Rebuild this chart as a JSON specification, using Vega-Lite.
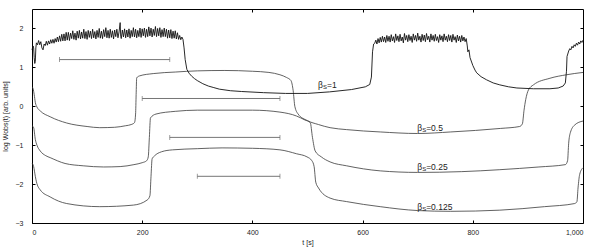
{
"$schema":"https://vega.github.io/schema/vega-lite/v6.json",
"width":551,"height":214,
"autosize":{"type":"none"},
"padding":{"left":32,"top":9,"right":15,"bottom":24},
"config":{"view":{"stroke":"#000","strokeWidth":1},"font":"Liberation Sans",
"axis":{"labelFont":"Liberation Sans","titleFont":"Liberation Sans","labelFontSize":7,"titleFontSize":7,"titleFontWeight":"normal","labelColor":"#222","titleColor":"#222","tickColor":"#000","domain":false,"grid":false,"tickSize":-3}},
"datasets":{
"curves":[
{"s":"1","t":0,"y":1.45},{"s":"1","t":2,"y":1.55},{"s":"1","t":3,"y":1.5},{"s":"1","t":4,"y":1.25},{"s":"1","t":5,"y":1.1},{"s":"1","t":6,"y":1.15},{"s":"1","t":7,"y":1.5},
{"s":"1","t":8,"y":1.63},{"s":"1","t":10,"y":1.58},{"s":"1","t":12,"y":1.69},{"s":"1","t":14,"y":1.58},{"s":"1","t":16,"y":1.66},{"s":"1","t":18,"y":1.5},{"s":"1","t":20,"y":1.45},{"s":"1","t":22,"y":1.6},{"s":"1","t":24,"y":1.56},{"s":"1","t":26,"y":1.67},{"s":"1","t":28,"y":1.57},{"s":"1","t":30,"y":1.68},{"s":"1","t":32,"y":1.6},{"s":"1","t":34,"y":1.71},{"s":"1","t":36,"y":1.62},{"s":"1","t":38,"y":1.72},{"s":"1","t":40,"y":1.62},{"s":"1","t":42,"y":1.74},{"s":"1","t":44,"y":1.65},{"s":"1","t":46,"y":1.78},{"s":"1","t":48,"y":1.66},{"s":"1","t":50,"y":1.81},{"s":"1","t":52,"y":1.67},{"s":"1","t":54,"y":1.85},{"s":"1","t":56,"y":1.68},{"s":"1","t":58,"y":1.86},{"s":"1","t":60,"y":1.68},{"s":"1","t":62,"y":1.9},{"s":"1","t":64,"y":1.7},{"s":"1","t":66,"y":1.9},{"s":"1","t":68,"y":1.69},{"s":"1","t":70,"y":1.88},{"s":"1","t":72,"y":1.74},{"s":"1","t":74,"y":1.94},{"s":"1","t":76,"y":1.72},{"s":"1","t":78,"y":1.88},{"s":"1","t":80,"y":1.7},{"s":"1","t":82,"y":1.93},{"s":"1","t":84,"y":1.75},{"s":"1","t":86,"y":1.95},{"s":"1","t":88,"y":1.73},{"s":"1","t":90,"y":1.91},{"s":"1","t":92,"y":1.75},{"s":"1","t":94,"y":1.98},{"s":"1","t":96,"y":1.74},{"s":"1","t":98,"y":1.92},{"s":"1","t":100,"y":1.72},{"s":"1","t":102,"y":1.95},{"s":"1","t":104,"y":1.77},{"s":"1","t":106,"y":1.93},{"s":"1","t":108,"y":1.74},{"s":"1","t":110,"y":1.98},{"s":"1","t":112,"y":1.76},{"s":"1","t":114,"y":1.92},{"s":"1","t":116,"y":1.73},{"s":"1","t":118,"y":1.95},{"s":"1","t":120,"y":1.77},{"s":"1","t":122,"y":2.0},{"s":"1","t":124,"y":1.75},{"s":"1","t":126,"y":1.93},{"s":"1","t":128,"y":1.74},{"s":"1","t":130,"y":1.97},{"s":"1","t":132,"y":1.79},{"s":"1","t":134,"y":2.02},{"s":"1","t":136,"y":1.76},{"s":"1","t":138,"y":1.95},{"s":"1","t":140,"y":1.75},{"s":"1","t":142,"y":1.98},{"s":"1","t":144,"y":1.77},{"s":"1","t":146,"y":1.94},{"s":"1","t":148,"y":1.73},{"s":"1","t":150,"y":1.96},{"s":"1","t":152,"y":1.79},{"s":"1","t":154,"y":1.98},{"s":"1","t":156,"y":1.76},{"s":"1","t":158,"y":1.91},{"s":"1","t":160,"y":2.15},{"s":"1","t":161,"y":1.8},{"s":"1","t":162,"y":1.74},{"s":"1","t":164,"y":1.96},{"s":"1","t":166,"y":1.78},{"s":"1","t":168,"y":1.99},{"s":"1","t":170,"y":1.76},{"s":"1","t":172,"y":1.96},{"s":"1","t":174,"y":1.78},{"s":"1","t":176,"y":1.99},{"s":"1","t":178,"y":1.75},{"s":"1","t":180,"y":1.95},{"s":"1","t":182,"y":1.79},{"s":"1","t":184,"y":2.02},{"s":"1","t":186,"y":1.78},{"s":"1","t":188,"y":1.98},{"s":"1","t":190,"y":1.76},{"s":"1","t":192,"y":1.95},{"s":"1","t":194,"y":1.79},{"s":"1","t":196,"y":2.01},{"s":"1","t":198,"y":1.77},{"s":"1","t":200,"y":1.99},{"s":"1","t":202,"y":1.81},{"s":"1","t":204,"y":2.01},{"s":"1","t":206,"y":1.77},{"s":"1","t":208,"y":1.98},{"s":"1","t":210,"y":1.79},{"s":"1","t":212,"y":2.04},{"s":"1","t":214,"y":1.81},{"s":"1","t":216,"y":2.01},{"s":"1","t":218,"y":1.78},{"s":"1","t":220,"y":1.98},{"s":"1","t":222,"y":1.82},{"s":"1","t":224,"y":2.05},{"s":"1","t":226,"y":1.79},{"s":"1","t":228,"y":2.0},{"s":"1","t":230,"y":1.81},{"s":"1","t":232,"y":2.02},{"s":"1","t":234,"y":1.77},{"s":"1","t":236,"y":1.97},{"s":"1","t":238,"y":1.79},{"s":"1","t":240,"y":2.01},{"s":"1","t":242,"y":1.79},{"s":"1","t":244,"y":1.98},{"s":"1","t":246,"y":1.75},{"s":"1","t":248,"y":1.96},{"s":"1","t":250,"y":1.76},{"s":"1","t":252,"y":1.97},{"s":"1","t":254,"y":1.74},{"s":"1","t":256,"y":1.93},{"s":"1","t":258,"y":1.75},{"s":"1","t":260,"y":1.94},{"s":"1","t":262,"y":1.73},{"s":"1","t":264,"y":1.89},{"s":"1","t":266,"y":1.72},{"s":"1","t":268,"y":1.82},{"s":"1","t":270,"y":1.71},{"s":"1","t":272,"y":1.78},{"s":"1","t":274,"y":1.72},{"s":"1","t":276,"y":1.5},{"s":"1","t":278,"y":1.2},{"s":"1","t":281,"y":0.95},{"s":"1","t":285,"y":0.85},{"s":"1","t":290,"y":0.77},{"s":"1","t":295,"y":0.71},{"s":"1","t":300,"y":0.66},{"s":"1","t":305,"y":0.62},{"s":"1","t":310,"y":0.58},{"s":"1","t":320,"y":0.52},{"s":"1","t":330,"y":0.48},{"s":"1","t":340,"y":0.44},{"s":"1","t":360,"y":0.4},{"s":"1","t":380,"y":0.38},{"s":"1","t":420,"y":0.35},{"s":"1","t":460,"y":0.33},{"s":"1","t":500,"y":0.33},{"s":"1","t":540,"y":0.37},{"s":"1","t":580,"y":0.43},{"s":"1","t":605,"y":0.5},{"s":"1","t":613,"y":0.56},{"s":"1","t":616,"y":0.75},{"s":"1","t":618,"y":1.4},{"s":"1","t":620,"y":1.6},
{"s":"1","t":622,"y":1.62},{"s":"1","t":624,"y":1.7},{"s":"1","t":626,"y":1.6},{"s":"1","t":628,"y":1.74},{"s":"1","t":630,"y":1.63},{"s":"1","t":632,"y":1.77},{"s":"1","t":634,"y":1.65},{"s":"1","t":636,"y":1.8},{"s":"1","t":638,"y":1.66},{"s":"1","t":640,"y":1.78},{"s":"1","t":642,"y":1.64},{"s":"1","t":644,"y":1.82},{"s":"1","t":646,"y":1.67},{"s":"1","t":648,"y":1.8},{"s":"1","t":650,"y":1.65},{"s":"1","t":652,"y":1.84},{"s":"1","t":654,"y":1.68},{"s":"1","t":656,"y":1.79},{"s":"1","t":658,"y":1.64},{"s":"1","t":660,"y":1.86},{"s":"1","t":662,"y":1.69},{"s":"1","t":664,"y":1.81},{"s":"1","t":666,"y":1.66},{"s":"1","t":668,"y":1.85},{"s":"1","t":670,"y":1.68},{"s":"1","t":672,"y":1.78},{"s":"1","t":674,"y":1.63},{"s":"1","t":676,"y":1.87},{"s":"1","t":678,"y":1.7},{"s":"1","t":680,"y":1.82},{"s":"1","t":682,"y":1.66},{"s":"1","t":684,"y":1.84},{"s":"1","t":686,"y":1.69},{"s":"1","t":688,"y":1.8},{"s":"1","t":690,"y":1.64},{"s":"1","t":692,"y":1.86},{"s":"1","t":694,"y":1.7},{"s":"1","t":696,"y":1.82},{"s":"1","t":698,"y":1.67},{"s":"1","t":700,"y":1.88},{"s":"1","t":702,"y":1.7},{"s":"1","t":704,"y":1.8},{"s":"1","t":706,"y":1.65},{"s":"1","t":708,"y":1.85},{"s":"1","t":710,"y":1.69},{"s":"1","t":712,"y":1.83},{"s":"1","t":714,"y":1.66},{"s":"1","t":716,"y":1.87},{"s":"1","t":718,"y":1.71},{"s":"1","t":720,"y":1.8},{"s":"1","t":722,"y":1.65},{"s":"1","t":724,"y":1.86},{"s":"1","t":726,"y":1.7},{"s":"1","t":728,"y":1.82},{"s":"1","t":730,"y":1.67},{"s":"1","t":732,"y":1.85},{"s":"1","t":734,"y":1.69},{"s":"1","t":736,"y":1.79},{"s":"1","t":738,"y":1.64},{"s":"1","t":740,"y":1.84},{"s":"1","t":742,"y":1.7},{"s":"1","t":744,"y":1.81},{"s":"1","t":746,"y":1.66},{"s":"1","t":748,"y":1.86},{"s":"1","t":750,"y":1.7},{"s":"1","t":752,"y":1.8},{"s":"1","t":754,"y":1.66},{"s":"1","t":756,"y":1.84},{"s":"1","t":758,"y":1.69},{"s":"1","t":760,"y":1.82},{"s":"1","t":762,"y":1.65},{"s":"1","t":764,"y":1.85},{"s":"1","t":766,"y":1.7},{"s":"1","t":768,"y":1.79},{"s":"1","t":770,"y":1.64},{"s":"1","t":772,"y":1.83},{"s":"1","t":774,"y":1.68},{"s":"1","t":776,"y":1.8},{"s":"1","t":778,"y":1.65},{"s":"1","t":780,"y":1.82},{"s":"1","t":782,"y":1.68},{"s":"1","t":784,"y":1.78},{"s":"1","t":786,"y":1.66},{"s":"1","t":788,"y":1.74},{"s":"1","t":790,"y":1.55},{"s":"1","t":791,"y":1.4},{"s":"1","t":793,"y":1.45},{"s":"1","t":795,"y":1.25},{"s":"1","t":800,"y":1.05},{"s":"1","t":804,"y":0.93},{"s":"1","t":807,"y":0.86},{"s":"1","t":815,"y":0.76},{"s":"1","t":825,"y":0.68},{"s":"1","t":837,"y":0.6},{"s":"1","t":849,"y":0.55},{"s":"1","t":865,"y":0.5},{"s":"1","t":880,"y":0.47},{"s":"1","t":910,"y":0.45},{"s":"1","t":940,"y":0.45},{"s":"1","t":955,"y":0.47},{"s":"1","t":964,"y":0.52},{"s":"1","t":968,"y":0.6},{"s":"1","t":970,"y":0.9},{"s":"1","t":971,"y":1.28},{"s":"1","t":974,"y":1.42},{"s":"1","t":976,"y":1.48},{"s":"1","t":978,"y":1.45},{"s":"1","t":980,"y":1.54},{"s":"1","t":982,"y":1.5},{"s":"1","t":984,"y":1.58},{"s":"1","t":986,"y":1.54},{"s":"1","t":988,"y":1.62},{"s":"1","t":990,"y":1.57},{"s":"1","t":992,"y":1.65},{"s":"1","t":994,"y":1.6},{"s":"1","t":996,"y":1.68},{"s":"1","t":998,"y":1.64},{"s":"1","t":1000,"y":1.7},
{"s":"0.5","t":0,"y":0.5},{"s":"0.5","t":2,"y":0.45},{"s":"0.5","t":4,"y":0.3},{"s":"0.5","t":6,"y":0.1},{"s":"0.5","t":9,"y":-0.02},{"s":"0.5","t":15,"y":-0.12},{"s":"0.5","t":33,"y":-0.27},{"s":"0.5","t":63,"y":-0.43},{"s":"0.5","t":100,"y":-0.52},{"s":"0.5","t":123,"y":-0.55},{"s":"0.5","t":150,"y":-0.54},{"s":"0.5","t":170,"y":-0.5},{"s":"0.5","t":180,"y":-0.47},{"s":"0.5","t":186,"y":-0.42},{"s":"0.5","t":188,"y":-0.2},{"s":"0.5","t":189,"y":0.3},{"s":"0.5","t":190,"y":0.73},{"s":"0.5","t":195,"y":0.78},{"s":"0.5","t":220,"y":0.84},{"s":"0.5","t":260,"y":0.88},{"s":"0.5","t":300,"y":0.91},{"s":"0.5","t":350,"y":0.92},{"s":"0.5","t":400,"y":0.9},{"s":"0.5","t":430,"y":0.87},{"s":"0.5","t":450,"y":0.81},{"s":"0.5","t":462,"y":0.74},{"s":"0.5","t":470,"y":0.66},{"s":"0.5","t":474,"y":0.4},{"s":"0.5","t":477,"y":0.0},{"s":"0.5","t":483,"y":-0.2},{"s":"0.5","t":500,"y":-0.37},{"s":"0.5","t":520,"y":-0.47},{"s":"0.5","t":541,"y":-0.55},{"s":"0.5","t":571,"y":-0.6},{"s":"0.5","t":632,"y":-0.66},{"s":"0.5","t":700,"y":-0.7},{"s":"0.5","t":760,"y":-0.66},{"s":"0.5","t":850,"y":-0.57},{"s":"0.5","t":885,"y":-0.52},{"s":"0.5","t":890,"y":-0.45},{"s":"0.5","t":893,"y":-0.1},{"s":"0.5","t":896,"y":0.17},{"s":"0.5","t":901,"y":0.42},{"s":"0.5","t":910,"y":0.55},{"s":"0.5","t":940,"y":0.72},{"s":"0.5","t":970,"y":0.81},{"s":"0.5","t":1000,"y":0.87},
{"s":"0.25","t":0,"y":-0.5},{"s":"0.25","t":3,"y":-0.55},{"s":"0.25","t":6,"y":-0.85},{"s":"0.25","t":9,"y":-1.0},{"s":"0.25","t":15,"y":-1.15},{"s":"0.25","t":25,"y":-1.27},{"s":"0.25","t":33,"y":-1.32},{"s":"0.25","t":60,"y":-1.47},{"s":"0.25","t":93,"y":-1.53},{"s":"0.25","t":130,"y":-1.56},{"s":"0.25","t":160,"y":-1.55},{"s":"0.25","t":185,"y":-1.5},{"s":"0.25","t":200,"y":-1.45},{"s":"0.25","t":208,"y":-1.4},{"s":"0.25","t":211,"y":-1.3},{"s":"0.25","t":213,"y":-0.8},{"s":"0.25","t":215,"y":-0.3},{"s":"0.25","t":225,"y":-0.2},{"s":"0.25","t":260,"y":-0.13},{"s":"0.25","t":300,"y":-0.1},{"s":"0.25","t":400,"y":-0.1},{"s":"0.25","t":450,"y":-0.15},{"s":"0.25","t":480,"y":-0.25},{"s":"0.25","t":495,"y":-0.35},{"s":"0.25","t":505,"y":-0.42},{"s":"0.25","t":509,"y":-0.8},{"s":"0.25","t":514,"y":-1.15},{"s":"0.25","t":525,"y":-1.3},{"s":"0.25","t":541,"y":-1.43},{"s":"0.25","t":571,"y":-1.53},{"s":"0.25","t":632,"y":-1.66},{"s":"0.25","t":700,"y":-1.7},{"s":"0.25","t":780,"y":-1.68},{"s":"0.25","t":849,"y":-1.63},{"s":"0.25","t":920,"y":-1.56},{"s":"0.25","t":968,"y":-1.5},{"s":"0.25","t":972,"y":-1.4},{"s":"0.25","t":974,"y":-0.95},{"s":"0.25","t":977,"y":-0.68},{"s":"0.25","t":985,"y":-0.48},{"s":"0.25","t":1000,"y":-0.38},
{"s":"0.125","t":0,"y":-1.46},{"s":"0.125","t":3,"y":-1.55},{"s":"0.125","t":6,"y":-1.8},{"s":"0.125","t":8,"y":-1.94},{"s":"0.125","t":15,"y":-2.15},{"s":"0.125","t":33,"y":-2.33},{"s":"0.125","t":63,"y":-2.5},{"s":"0.125","t":123,"y":-2.58},{"s":"0.125","t":184,"y":-2.54},{"s":"0.125","t":209,"y":-2.41},{"s":"0.125","t":214,"y":-2.3},{"s":"0.125","t":216,"y":-1.8},{"s":"0.125","t":218,"y":-1.35},{"s":"0.125","t":222,"y":-1.28},{"s":"0.125","t":235,"y":-1.17},{"s":"0.125","t":255,"y":-1.12},{"s":"0.125","t":300,"y":-1.09},{"s":"0.125","t":345,"y":-1.07},{"s":"0.125","t":400,"y":-1.08},{"s":"0.125","t":450,"y":-1.12},{"s":"0.125","t":480,"y":-1.22},{"s":"0.125","t":499,"y":-1.3},{"s":"0.125","t":508,"y":-1.4},{"s":"0.125","t":512,"y":-1.55},{"s":"0.125","t":515,"y":-1.95},{"s":"0.125","t":520,"y":-2.1},{"s":"0.125","t":541,"y":-2.36},{"s":"0.125","t":571,"y":-2.45},{"s":"0.125","t":632,"y":-2.58},{"s":"0.125","t":700,"y":-2.68},{"s":"0.125","t":760,"y":-2.7},{"s":"0.125","t":849,"y":-2.67},{"s":"0.125","t":930,"y":-2.58},{"s":"0.125","t":985,"y":-2.5},{"s":"0.125","t":989,"y":-2.45},{"s":"0.125","t":991,"y":-2.1},{"s":"0.125","t":994,"y":-1.75},{"s":"0.125","t":1000,"y":-1.58}
],
"bars":[{"t1":50,"t2":250,"y":1.2},{"t1":200,"t2":450,"y":0.2},{"t1":250,"t2":450,"y":-0.8},{"t1":300,"t2":450,"y":-1.8}],
"labels":[{"t":519,"y":0.55,"r":"=1"},{"t":699,"y":-0.55,"r":"=0.5"},{"t":699,"y":-1.55,"r":"=0.25"},{"t":699,"y":-2.58,"r":"=0.125"}]
},
"layer":[
{"data":{"name":"curves"},
 "transform":[{"filter":"datum.s != '1'"}],
 "mark":{"type":"line","stroke":"#3a3a3a","strokeWidth":0.8,"interpolate":"monotone"},
 "encoding":{
  "x":{"field":"t","type":"quantitative","scale":{"domain":[0,1000],"nice":false},"axis":{"orient":"bottom","values":[0,200,400,600,800,1000],"title":"t [s]","labelPadding":8,"titlePadding":3}},
  "y":{"field":"y","type":"quantitative","scale":{"domain":[-3,2.5],"nice":false,"zero":false},"axis":{"orient":"left","values":[-3,-2,-1,0,1,2],"title":"log Wobs(t) [arb. units]","labelPadding":12,"titlePadding":7}},
  "detail":{"field":"s"}}},
{"data":{"name":"curves"},
 "transform":[{"filter":"datum.s == '1'"}],
 "mark":{"type":"line","stroke":"#111","strokeWidth":0.9,"interpolate":"linear"},
 "encoding":{
  "x":{"field":"t","type":"quantitative","axis":null},
  "y":{"field":"y","type":"quantitative","axis":null}}},
{"data":{"name":"bars"},
 "mark":{"type":"rule","stroke":"#666","strokeWidth":0.9},
 "encoding":{
  "x":{"field":"t1","type":"quantitative","scale":{"domain":[0,1000],"nice":false},"axis":{"orient":"top","values":[200,400,600,800],"labels":false,"title":null}},
  "x2":{"field":"t2"},
  "y":{"field":"y","type":"quantitative","scale":{"domain":[-3,2.5],"nice":false,"zero":false},"axis":{"orient":"right","values":[-2,-1,0,1,2],"labels":false,"title":null}}}},
{"data":{"name":"bars"},
 "transform":[{"fold":["t1","t2"],"as":["k","tv"]}],
 "mark":{"type":"tick","color":"#666","orient":"vertical","size":5,"thickness":0.9},
 "encoding":{
  "x":{"field":"tv","type":"quantitative","axis":null},
  "y":{"field":"y","type":"quantitative","axis":null}}},
{"data":{"name":"labels"},
 "mark":{"type":"text","align":"left","baseline":"middle","fontSize":8.5,"font":"Liberation Sans","color":"#222"},
 "encoding":{"x":{"field":"t","type":"quantitative","axis":null},"y":{"field":"y","type":"quantitative","axis":null},"text":{"value":"β"}}},
{"data":{"name":"labels"},
 "mark":{"type":"text","align":"left","baseline":"middle","fontSize":6,"font":"Liberation Sans","color":"#222","dx":5,"dy":2.5},
 "encoding":{"x":{"field":"t","type":"quantitative","axis":null},"y":{"field":"y","type":"quantitative","axis":null},"text":{"value":"S"}}},
{"data":{"name":"labels"},
 "mark":{"type":"text","align":"left","baseline":"middle","fontSize":8.5,"font":"Liberation Sans","color":"#222","dx":9},
 "encoding":{"x":{"field":"t","type":"quantitative","axis":null},"y":{"field":"y","type":"quantitative","axis":null},"text":{"field":"r"}}}
],
"resolve":{"axis":{"x":"independent","y":"independent"}}
}
